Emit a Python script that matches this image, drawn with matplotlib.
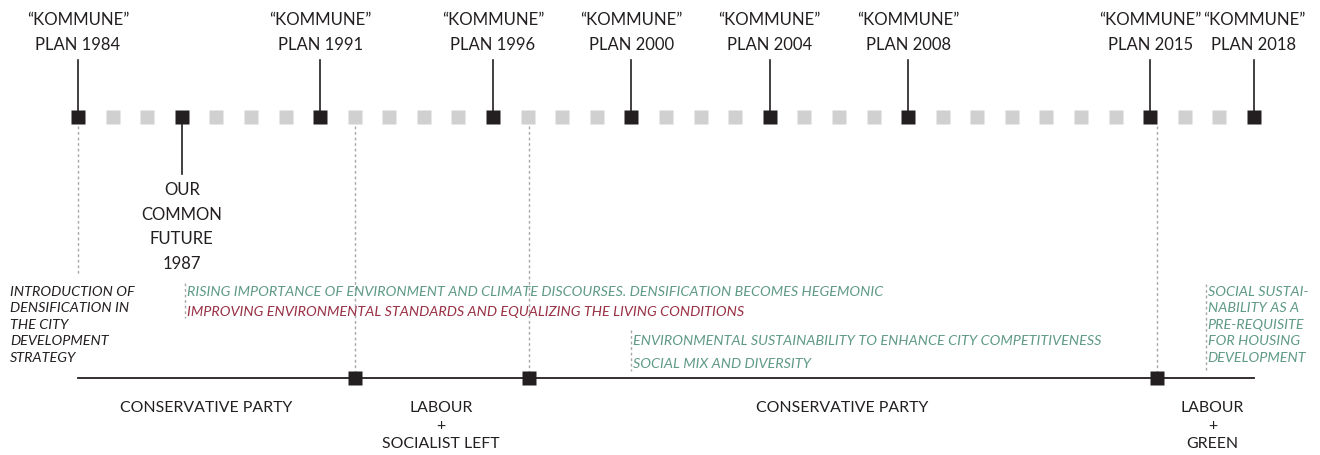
import matplotlib.pyplot as plt

# timeline data
years = list(range(1984, 2019))
plan_years = [1984, 1991, 1996, 2000, 2004, 2008, 2015, 2018]
ocf_year = 1987
gov_changes = [1992.0, 1997.05, 2015.2]
parties = ["CONSERVATIVE PARTY", "LABOUR\n+\nSOCIALIST LEFT", "CONSERVATIVE PARTY", "LABOUR\n+\nGREEN"]
party_pos = [1987.7, 1994.5, 2006.1, 2016.8]

discourses = [
    (1981.98, 286, "INTRODUCTION OF\nDENSIFICATION IN\nTHE CITY\nDEVELOPMENT\nSTRATEGY", "#231f20"),
    (1987.1, 286, "RISING IMPORTANCE OF ENVIRONMENT AND CLIMATE DISCOURSES. DENSIFICATION BECOMES HEGEMONIC", "#5f9a86"),
    (1987.1, 306, "IMPROVING ENVIRONMENTAL STANDARDS AND EQUALIZING THE LIVING CONDITIONS", "#993044"),
    (2000.0, 335, "ENVIRONMENTAL SUSTAINABILITY TO ENHANCE CITY COMPETITIVENESS", "#5f9a86"),
    (2000.0, 358, "SOCIAL MIX AND DIVERSITY", "#5f9a86"),
    (2016.6, 286, "SOCIAL SUSTAI-\nNABILITY AS A\nPRE-REQUISITE\nFOR HOUSING\nDEVELOPMENT", "#5f9a86"),
]

BLACK = "#231f20"
GRAY = "#d0d0d0"
FONT = "Lato"

fig = plt.figure(figsize=(13.2, 4.55), dpi=100)
ax = fig.add_axes([0, 0, 1, 1])
px = 34.588
ax.set_xlim(1984 - 78 / px, 1984 + (1320 - 78) / px)
ax.set_ylim(455, 0)
ax.axis("off")

y_top = 117
y_bot = 378

# upper timeline
gray_years = [y for y in years if y not in plan_years and y != ocf_year]
ax.plot(gray_years, [y_top] * len(gray_years), "s", ms=10.5, color=GRAY, mec="none", zorder=3)
marks = plan_years + [ocf_year]
ax.plot(marks, [y_top] * len(marks), "s", ms=10.5, color=BLACK, mec="none", zorder=4)

for yr in plan_years:
    ax.plot([yr, yr], [60, y_top], color=BLACK, lw=1.2, zorder=2)
    ax.text(yr, 20, "\u201cKOMMUNE\u201d", ha="center", va="center", fontsize=12.1, family=FONT, color=BLACK)
    ax.text(yr, 45, f"PLAN {yr}", ha="center", va="center", fontsize=12, family=FONT, color=BLACK)

ax.plot([ocf_year, ocf_year], [y_top, 174], color=BLACK, lw=1.2, zorder=2)
for i, line in enumerate(["OUR", "COMMON", "FUTURE", "1987"]):
    ax.text(ocf_year, 190 + i * 24.7, line, ha="center", va="center", fontsize=12, family=FONT, color=BLACK)

# dotted guides
ax.plot([1984, 1984], [126, 274], color="#a8a8a8", lw=1, ls=(0, (2, 2)), zorder=1)
for g in gov_changes:
    ax.plot([g, g], [126, y_bot], color="#a8a8a8", lw=1, ls=(0, (2, 2)), zorder=1)

# discourse texts
for x, y, txt, col in discourses:
    ax.text(x + 0.06, y, txt, ha="left", va="top", fontsize=10.4, family=FONT,
            style="italic", color=col, linespacing=1.44)
for x, y0, y1 in [(1987.1, 283, 318), (2000.0, 330, 371), (2016.6, 284, 372)]:
    ax.plot([x, x], [y0, y1], color="#a8a8a8", lw=1, ls=(0, (2, 2)), zorder=1)

# lower timeline with government changes
ax.plot([1984, 2018], [y_bot, y_bot], color=BLACK, lw=1.3, zorder=2)
ax.plot(gov_changes, [y_bot] * len(gov_changes), "s", ms=10.5, color=BLACK, mec="none", zorder=4)
for x, name in zip(party_pos, parties):
    ax.text(x, 401, name, ha="center", va="top", fontsize=11.4, family=FONT, color=BLACK, linespacing=1.38)

fig.savefig("out.png", dpi=100)
